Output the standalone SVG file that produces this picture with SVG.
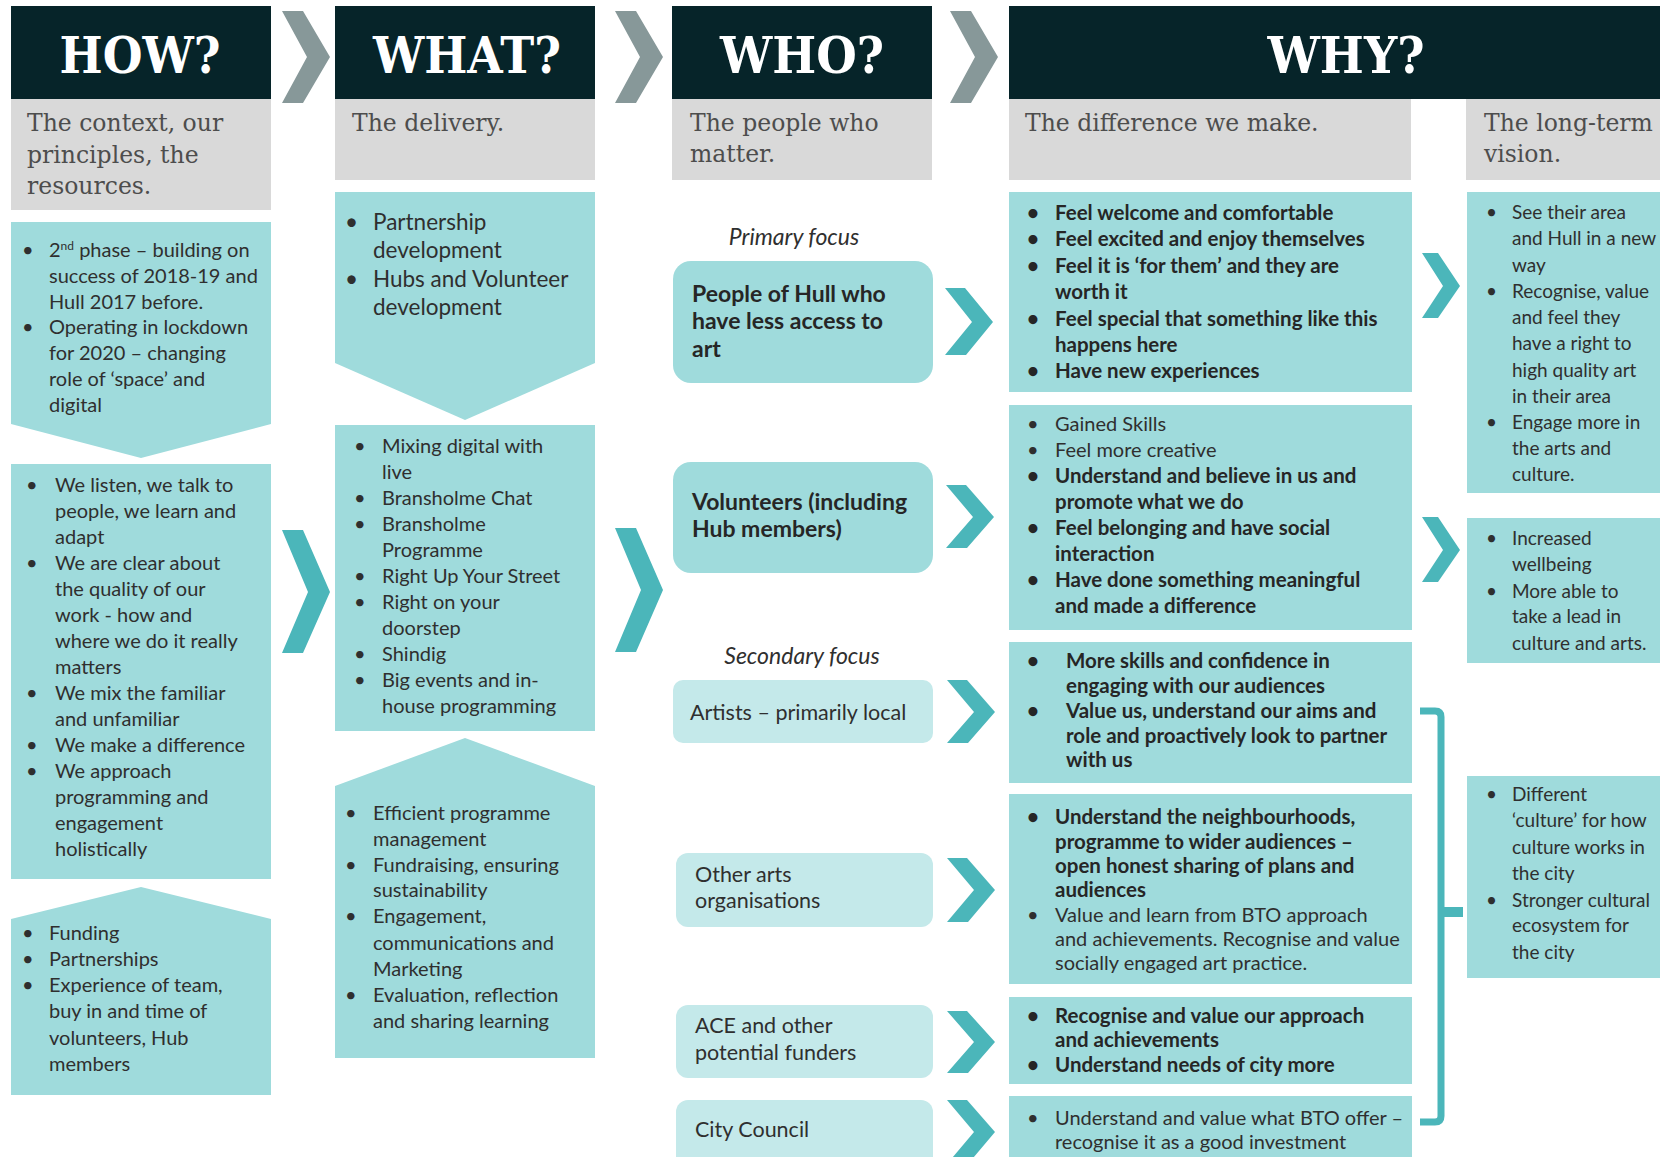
<svg xmlns="http://www.w3.org/2000/svg" width="1660" height="1157" viewBox="0 0 1660 1157">
<style>
.hd{fill:#062429}
.gr{fill:#d9d9d9}
.tl{fill:#9fdbdc}
.lt{fill:#c4e9ea}
.ch{fill:#4bb6ba}
.gch{fill:#879899}
.h{font-family:"DejaVu Serif",serif;font-weight:bold;font-size:50px;fill:#ffffff;text-anchor:middle}
.sub{font-family:"DejaVu Serif",serif;font-size:23.5px;fill:#4d4d4d}
.t{font-family:Lato,"Liberation Sans",sans-serif;font-size:20px;fill:#2f2f2f}
.v{font-family:Lato,"Liberation Sans",sans-serif;font-size:19px;fill:#2f2f2f}
.b{font-family:Lato,"Liberation Sans",sans-serif;font-size:20.5px;font-weight:bold;fill:#262626}
.big{font-family:Lato,"Liberation Sans",sans-serif;font-size:22.5px;fill:#2f2f2f}
.wb{font-family:Lato,"Liberation Sans",sans-serif;font-size:23px;font-weight:bold;fill:#262626}
.wl{font-family:Lato,"Liberation Sans",sans-serif;font-size:21.5px;fill:#2f2f2f}
.it{font-family:Lato,"Liberation Sans",sans-serif;font-size:23px;font-style:italic;fill:#2f2f2f;text-anchor:middle}
</style>

<g id="how">
  <rect class="hd" x="11" y="6" width="260" height="93"/>
  <text class="h" x="140" y="73" textLength="161" lengthAdjust="spacingAndGlyphs">HOW?</text>
  <rect class="gr" x="11" y="99" width="260" height="111"/>
  <text class="sub" x="27" y="131">The context, our</text>
  <text class="sub" x="27" y="163">principles, the</text>
  <text class="sub" x="27" y="194">resources.</text>
</g>
<g id="how-context">
  <polygon class="tl" points="11,222 271,222 271,424 141,458 11,424"/>
  <text class="t" x="22" y="257">•</text>
  <text class="t" x="49" y="257">2<tspan font-size="12" baseline-shift="super">nd</tspan> phase – building on</text>
  <text class="t" x="49" y="283">success of 2018-19 and</text>
  <text class="t" x="49" y="309">Hull 2017 before.</text>
  <text class="t" x="22" y="334">•</text>
  <text class="t" x="49" y="334">Operating in lockdown</text>
  <text class="t" x="49" y="360">for 2020 – changing</text>
  <text class="t" x="49" y="386">role of ‘space’ and</text>
  <text class="t" x="49" y="412">digital</text>
</g>
<g id="how-principles">
  <rect class="tl" x="11" y="464" width="260" height="415"/>
  <text class="t" x="26" y="492">•</text>
  <text class="t" x="55" y="492">We listen, we talk to</text>
  <text class="t" x="55" y="518">people, we learn and</text>
  <text class="t" x="55" y="544">adapt</text>
  <text class="t" x="26" y="570">•</text>
  <text class="t" x="55" y="570">We are clear about</text>
  <text class="t" x="55" y="596">the quality of our</text>
  <text class="t" x="55" y="622">work - how and</text>
  <text class="t" x="55" y="648">where we do it really</text>
  <text class="t" x="55" y="674">matters</text>
  <text class="t" x="26" y="700">•</text>
  <text class="t" x="55" y="700">We mix the familiar</text>
  <text class="t" x="55" y="726">and unfamiliar</text>
  <text class="t" x="26" y="752">•</text>
  <text class="t" x="55" y="752">We make a difference</text>
  <text class="t" x="26" y="778">•</text>
  <text class="t" x="55" y="778">We approach</text>
  <text class="t" x="55" y="804">programming and</text>
  <text class="t" x="55" y="830">engagement</text>
  <text class="t" x="55" y="856">holistically</text>
</g>
<g id="how-resources">
  <polygon class="tl" points="11,919 141,887 271,919 271,1095 11,1095"/>
  <text class="t" x="22" y="940">•</text>
  <text class="t" x="49" y="940">Funding</text>
  <text class="t" x="22" y="966">•</text>
  <text class="t" x="49" y="966">Partnerships</text>
  <text class="t" x="22" y="992">•</text>
  <text class="t" x="49" y="992">Experience of team,</text>
  <text class="t" x="49" y="1018">buy in and time of</text>
  <text class="t" x="49" y="1045">volunteers, Hub</text>
  <text class="t" x="49" y="1071">members</text>
</g>

<g id="what">
  <rect class="hd" x="335" y="6" width="260" height="93"/>
  <text class="h" x="467" y="73" textLength="188" lengthAdjust="spacingAndGlyphs">WHAT?</text>
  <rect class="gr" x="335" y="99" width="260" height="81"/>
  <text class="sub" x="352" y="131">The delivery.</text>
</g>
<g id="what-development">
  <polygon class="tl" points="335,192 595,192 595,363 465,420 335,363"/>
  <text class="big" x="345" y="230">•</text>
  <text class="big" x="373" y="230">Partnership</text>
  <text class="big" x="373" y="258">development</text>
  <text class="big" x="345" y="287">•</text>
  <text class="big" x="373" y="287">Hubs and Volunteer</text>
  <text class="big" x="373" y="315">development</text>
</g>
<g id="what-programme">
  <rect class="tl" x="335" y="425" width="260" height="306"/>
  <text class="t" x="354" y="453">•</text>
  <text class="t" x="382" y="453">Mixing digital with</text>
  <text class="t" x="382" y="479">live</text>
  <text class="t" x="354" y="505">•</text>
  <text class="t" x="382" y="505">Bransholme Chat</text>
  <text class="t" x="354" y="531">•</text>
  <text class="t" x="382" y="531">Bransholme</text>
  <text class="t" x="382" y="557">Programme</text>
  <text class="t" x="354" y="583">•</text>
  <text class="t" x="382" y="583">Right Up Your Street</text>
  <text class="t" x="354" y="609">•</text>
  <text class="t" x="382" y="609">Right on your</text>
  <text class="t" x="382" y="635">doorstep</text>
  <text class="t" x="354" y="661">•</text>
  <text class="t" x="382" y="661">Shindig</text>
  <text class="t" x="354" y="687">•</text>
  <text class="t" x="382" y="687">Big events and in-</text>
  <text class="t" x="382" y="713">house programming</text>
</g>
<g id="what-management">
  <polygon class="tl" points="335,786 465,738 595,786 595,1058 335,1058"/>
  <text class="t" x="345" y="820">•</text>
  <text class="t" x="373" y="820">Efficient programme</text>
  <text class="t" x="373" y="846">management</text>
  <text class="t" x="345" y="872">•</text>
  <text class="t" x="373" y="872">Fundraising, ensuring</text>
  <text class="t" x="373" y="897">sustainability</text>
  <text class="t" x="345" y="923">•</text>
  <text class="t" x="373" y="923">Engagement,</text>
  <text class="t" x="373" y="950">communications and</text>
  <text class="t" x="373" y="976">Marketing</text>
  <text class="t" x="345" y="1002">•</text>
  <text class="t" x="373" y="1002">Evaluation, reflection</text>
  <text class="t" x="373" y="1028">and sharing learning</text>
</g>

<g id="who">
  <rect class="hd" x="672" y="6" width="260" height="93"/>
  <text class="h" x="802" y="73" textLength="164" lengthAdjust="spacingAndGlyphs">WHO?</text>
  <rect class="gr" x="672" y="99" width="260" height="81"/>
  <text class="sub" x="690" y="131">The people who</text>
  <text class="sub" x="690" y="162">matter.</text>
  <text class="it" x="794" y="245">Primary focus</text>
  <text class="it" x="802" y="664">Secondary focus</text>
</g>
<g id="who-people">
  <rect class="tl" x="673" y="261" width="260" height="122" rx="18"/>
  <text class="wb" x="692" y="302">People of Hull who</text>
  <text class="wb" x="692" y="329">have less access to</text>
  <text class="wb" x="692" y="357">art</text>
</g>
<g id="who-volunteers">
  <rect class="tl" x="673" y="462" width="260" height="111" rx="18"/>
  <text class="wb" x="692" y="510">Volunteers (including</text>
  <text class="wb" x="692" y="537">Hub members)</text>
</g>
<g id="who-artists">
  <rect class="lt" x="673" y="680" width="260" height="63" rx="10"/>
  <text class="wl" x="690" y="720">Artists – primarily local</text>
</g>
<g id="who-arts-orgs">
  <rect class="lt" x="676" y="853" width="257" height="74" rx="12"/>
  <text class="wl" x="695" y="882">Other arts</text>
  <text class="wl" x="695" y="908">organisations</text>
</g>
<g id="who-funders">
  <rect class="lt" x="676" y="1005" width="257" height="73" rx="12"/>
  <text class="wl" x="695" y="1033">ACE and other</text>
  <text class="wl" x="695" y="1060">potential funders</text>
</g>
<g id="who-council">
  <rect class="lt" x="676" y="1100" width="257" height="75" rx="12"/>
  <text class="wl" x="695" y="1137">City Council</text>
</g>

<g id="why">
  <rect class="hd" x="1009" y="6" width="651" height="93"/>
  <text class="h" x="1346" y="73" textLength="157" lengthAdjust="spacingAndGlyphs">WHY?</text>
  <rect class="gr" x="1009" y="99" width="402" height="81"/>
  <text class="sub" x="1025" y="131">The difference we make.</text>
  <rect class="gr" x="1466" y="99" width="194" height="81"/>
  <text class="sub" x="1484" y="131">The long-term</text>
  <text class="sub" x="1484" y="162">vision.</text>
</g>
<g id="diff-people">
  <rect class="tl" x="1009" y="192" width="403" height="200"/>
  <text class="b" x="1027" y="220">•</text>
  <text class="b" x="1055" y="220">Feel welcome and comfortable</text>
  <text class="b" x="1027" y="246">•</text>
  <text class="b" x="1055" y="246">Feel excited and enjoy themselves</text>
  <text class="b" x="1027" y="273">•</text>
  <text class="b" x="1055" y="273">Feel it is ‘for them’ and they are</text>
  <text class="b" x="1055" y="299">worth it</text>
  <text class="b" x="1027" y="326">•</text>
  <text class="b" x="1055" y="326">Feel special that something like this</text>
  <text class="b" x="1055" y="352">happens here</text>
  <text class="b" x="1027" y="378">•</text>
  <text class="b" x="1055" y="378">Have new experiences</text>
</g>
<g id="diff-volunteers">
  <rect class="tl" x="1009" y="405" width="403" height="225"/>
  <text class="t" x="1027" y="431">•</text>
  <text class="t" x="1055" y="431">Gained Skills</text>
  <text class="t" x="1027" y="457">•</text>
  <text class="t" x="1055" y="457">Feel more creative</text>
  <text class="b" x="1027" y="483">•</text>
  <text class="b" x="1055" y="483">Understand and believe in us and</text>
  <text class="b" x="1055" y="509">promote what we do</text>
  <text class="b" x="1027" y="535">•</text>
  <text class="b" x="1055" y="535">Feel belonging and have social</text>
  <text class="b" x="1055" y="561">interaction</text>
  <text class="b" x="1027" y="587">•</text>
  <text class="b" x="1055" y="587">Have done something meaningful</text>
  <text class="b" x="1055" y="613">and made a difference</text>
</g>
<g id="diff-artists">
  <rect class="tl" x="1009" y="642" width="403" height="141"/>
  <text class="b" x="1027" y="668">•</text>
  <text class="b" x="1066" y="668">More skills and confidence in</text>
  <text class="b" x="1066" y="693">engaging with our audiences</text>
  <text class="b" x="1027" y="718">•</text>
  <text class="b" x="1066" y="718">Value us, understand our aims and</text>
  <text class="b" x="1066" y="743">role and proactively look to partner</text>
  <text class="b" x="1066" y="767">with us</text>
</g>
<g id="diff-arts-orgs">
  <rect class="tl" x="1009" y="794" width="403" height="190"/>
  <text class="b" x="1027" y="824">•</text>
  <text class="b" x="1055" y="824">Understand the neighbourhoods,</text>
  <text class="b" x="1055" y="849">programme to wider audiences –</text>
  <text class="b" x="1055" y="873">open honest sharing of plans and</text>
  <text class="b" x="1055" y="897">audiences</text>
  <text class="t" x="1027" y="922">•</text>
  <text class="t" x="1055" y="922">Value and learn from BTO approach</text>
  <text class="t" x="1055" y="946">and achievements. Recognise and value</text>
  <text class="t" x="1055" y="970">socially engaged art practice.</text>
</g>
<g id="diff-funders">
  <rect class="tl" x="1009" y="997" width="403" height="87"/>
  <text class="b" x="1027" y="1023">•</text>
  <text class="b" x="1055" y="1023">Recognise and value our approach</text>
  <text class="b" x="1055" y="1047">and achievements</text>
  <text class="b" x="1027" y="1072">•</text>
  <text class="b" x="1055" y="1072">Understand needs of city more</text>
</g>
<g id="diff-council">
  <rect class="tl" x="1009" y="1096" width="403" height="80"/>
  <text class="t" x="1027" y="1125">•</text>
  <text class="t" x="1055" y="1125">Understand and value what BTO offer –</text>
  <text class="t" x="1055" y="1149">recognise it as a good investment</text>
</g>
<g id="vision-area">
  <rect class="tl" x="1467" y="192" width="200" height="301"/>
  <text class="v" x="1486" y="219">•</text>
  <text class="v" x="1512" y="219">See their area</text>
  <text class="v" x="1512" y="245">and Hull in a new</text>
  <text class="v" x="1512" y="272">way</text>
  <text class="v" x="1486" y="298">•</text>
  <text class="v" x="1512" y="298">Recognise, value</text>
  <text class="v" x="1512" y="324">and feel they</text>
  <text class="v" x="1512" y="350">have a right to</text>
  <text class="v" x="1512" y="377">high quality art</text>
  <text class="v" x="1512" y="403">in their area</text>
  <text class="v" x="1486" y="429">•</text>
  <text class="v" x="1512" y="429">Engage more in</text>
  <text class="v" x="1512" y="455">the arts and</text>
  <text class="v" x="1512" y="481">culture.</text>
</g>
<g id="vision-wellbeing">
  <rect class="tl" x="1467" y="518" width="200" height="145"/>
  <text class="v" x="1486" y="545">•</text>
  <text class="v" x="1512" y="545">Increased</text>
  <text class="v" x="1512" y="571">wellbeing</text>
  <text class="v" x="1486" y="598">•</text>
  <text class="v" x="1512" y="598">More able to</text>
  <text class="v" x="1512" y="623">take a lead in</text>
  <text class="v" x="1512" y="650">culture and arts.</text>
</g>
<g id="vision-city">
  <rect class="tl" x="1467" y="776" width="200" height="202"/>
  <text class="v" x="1486" y="801">•</text>
  <text class="v" x="1512" y="801">Different</text>
  <text class="v" x="1512" y="827">‘culture’ for how</text>
  <text class="v" x="1512" y="854">culture works in</text>
  <text class="v" x="1512" y="880">the city</text>
  <text class="v" x="1486" y="907">•</text>
  <text class="v" x="1512" y="907">Stronger cultural</text>
  <text class="v" x="1512" y="932">ecosystem for</text>
  <text class="v" x="1512" y="959">the city</text>
</g>

<g id="connectors">
  <polygon class="gch" points="282,11 303,11 330,57 303,103 282,103 307,57"/>
  <polygon class="gch" points="615,11 636,11 663,57 636,103 615,103 640,57"/>
  <polygon class="gch" points="950,11 971,11 998,57 971,103 950,103 975,57"/>
  <polygon class="ch" points="282,530 303,530 330,592 303,653 282,653 308,592"/>
  <polygon class="ch" points="615,528 636,528 663,590 636,652 615,652 641,590"/>
  <polygon class="ch" points="945,288 965,288 993,322 966,355 945,355 972,322"/>
  <polygon class="ch" points="946,485 966,485 994,517 967,548 946,548 973,517"/>
  <polygon class="ch" points="947,680 967,680 995,712 968,743 947,743 974,712"/>
  <polygon class="ch" points="947,858 967,858 995,890 968,922 947,922 974,890"/>
  <polygon class="ch" points="947,1011 967,1011 995,1042 968,1073 947,1073 974,1042"/>
  <polygon class="ch" points="947,1100 967,1100 995,1132 968,1164 947,1164 974,1132"/>
  <polygon class="ch" points="1422,253 1438,253 1460,286 1438,318 1422,318 1443,286"/>
  <polygon class="ch" points="1422,517 1438,517 1460,550 1438,582 1422,582 1443,550"/>
  <path d="M1420,711 H1435 Q1441,711 1441,717 V1116 Q1441,1122 1435,1122 H1420" fill="none" stroke="#4bb6ba" stroke-width="7"/>
  <rect class="ch" x="1441" y="907" width="22" height="10"/>
</g>
</svg>
